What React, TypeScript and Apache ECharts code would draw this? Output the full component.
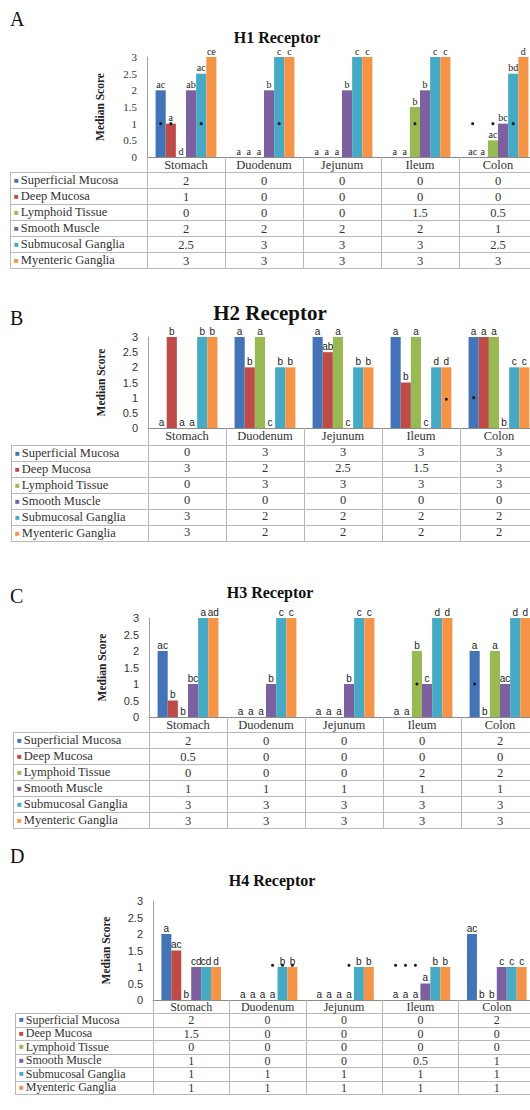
import React, { useEffect, useRef } from "react";
import * as echarts from "echarts";

const categories = ["Stomach", "Duodenum", "Jejunum", "Ileum", "Colon"];
const tissues = [
  "Superficial Mucosa",
  "Deep Mucosa",
  "Lymphoid Tissue",
  "Smooth Muscle",
  "Submucosal Ganglia",
  "Myenteric Ganglia",
];
const tissueColors = ["#4374B7", "#BE4B48", "#98B954", "#7D60A0", "#46AAC5", "#F59447"];
const yTickMin = 0;
const yTickMax = 3;
const yTickStep = 0.5;

// H1 receptor (A)
const h1Superficial = [2, 0, 0, 0, 0];
const h1Deep = [1, 0, 0, 0, 0];
const h1Lymphoid = [0, 0, 0, 1.5, 0.5];
const h1Smooth = [2, 2, 2, 2, 1];
const h1Submucosal = [2.5, 3, 3, 3, 2.5];
const h1Myenteric = [3, 3, 3, 3, 3];
const h1Letters = [
  ["ac", "a", "a", "a", "ac"],
  ["a", "a", "a", "a", "a"],
  ["d", "a", "a", "b", "ac"],
  ["ab", "b", "b", "b", "bc"],
  ["ac", "c", "c", "c", "bd"],
  ["ce", "c", "c", "c", "d"],
];
// [tissue index, category index, value]
const h1Stars = [[0, 0, 1], [1, 0, 1], [4, 0, 1], [4, 1, 1], [2, 3, 1], [0, 4, 1], [2, 4, 1], [4, 4, 1]];

// H2 receptor (B)
const h2Superficial = [0, 3, 3, 3, 3];
const h2Deep = [3, 2, 2.5, 1.5, 3];
const h2Lymphoid = [0, 3, 3, 3, 3];
const h2Smooth = [0, 0, 0, 0, 0];
const h2Submucosal = [3, 2, 2, 2, 2];
const h2Myenteric = [3, 2, 2, 2, 2];
const h2Letters = [
  ["a", "a", "a", "a", "a"],
  ["b", "b", "ab", "b", "a"],
  ["a", "a", "a", "a", "a"],
  ["a", "c", "c", "c", "b"],
  ["b", "b", "b", "d", "c"],
  ["b", "b", "b", "d", "c"],
];
const h2Stars = [[5, 3, 0.95], [0, 4, 1]];

// H3 receptor (C)
const h3Superficial = [2, 0, 0, 0, 2];
const h3Deep = [0.5, 0, 0, 0, 0];
const h3Lymphoid = [0, 0, 0, 2, 2];
const h3Smooth = [1, 1, 1, 1, 1];
const h3Submucosal = [3, 3, 3, 3, 3];
const h3Myenteric = [3, 3, 3, 3, 3];
const h3Letters = [
  ["ac", "a", "a", "a", "a"],
  ["b", "a", "a", "a", "b"],
  ["b", "a", "a", "b", "a"],
  ["bc", "b", "b", "c", "ac"],
  ["a", "c", "c", "d", "d"],
  ["ad", "c", "c", "d", "d"],
];
const h3Stars = [[2, 3, 1], [0, 4, 1]];

// H4 receptor (D)
const h4Superficial = [2, 0, 0, 0, 2];
const h4Deep = [1.5, 0, 0, 0, 0];
const h4Lymphoid = [0, 0, 0, 0, 0];
const h4Smooth = [1, 0, 0, 0.5, 1];
const h4Submucosal = [1, 1, 1, 1, 1];
const h4Myenteric = [1, 1, 1, 1, 1];
const h4Letters = [
  ["a", "a", "a", "a", "ac"],
  ["ac", "a", "a", "a", "b"],
  ["b", "a", "a", "a", "b"],
  ["cd", "a", "a", "a", "c"],
  ["cd", "b", "b", "b", "c"],
  ["d", "b", "b", "b", "c"],
];
const h4Stars = [[3, 1, 1.05], [4, 1, 1.05], [5, 1, 1.05], [3, 2, 1.05], [0, 3, 1.05], [1, 3, 1.05], [2, 3, 1.05]];

const panels = [
  { letter: "A", title: "H1 Receptor", values: [h1Superficial, h1Deep, h1Lymphoid, h1Smooth, h1Submucosal, h1Myenteric], letters: h1Letters, stars: h1Stars },
  { letter: "B", title: "H2 Receptor", values: [h2Superficial, h2Deep, h2Lymphoid, h2Smooth, h2Submucosal, h2Myenteric], letters: h2Letters, stars: h2Stars },
  { letter: "C", title: "H3 Receptor", values: [h3Superficial, h3Deep, h3Lymphoid, h3Smooth, h3Submucosal, h3Myenteric], letters: h3Letters, stars: h3Stars },
  { letter: "D", title: "H4 Receptor", values: [h4Superficial, h4Deep, h4Lymphoid, h4Smooth, h4Submucosal, h4Myenteric], letters: h4Letters, stars: h4Stars },
];

const SERIF = '"Liberation Serif", "Times New Roman", serif';
const SANS = '"Liberation Sans", Arial, sans-serif';

const layouts = [
  { left: 147, top: 57, height: 100, width: 390, rowH: 16, tableTop: 172, legendLeft: 10, letterY: 19, titleX: 277, titleY: 37, titleSize: 16, labelFont: SERIF, tickFont: SERIF, tableFont: 12.5 },
  { left: 148, top: 337, height: 91, width: 390, rowH: 16, tableTop: 445, legendLeft: 11, letterY: 318, titleX: 270, titleY: 313, titleSize: 21, labelFont: SANS, tickFont: SANS, tableFont: 12.5 },
  { left: 149, top: 618, height: 99, width: 390, rowH: 16, tableTop: 732, legendLeft: 13, letterY: 596, titleX: 270, titleY: 592, titleSize: 16, labelFont: SANS, tickFont: SANS, tableFont: 12.5 },
  { left: 153, top: 901, height: 99, width: 382, rowH: 13.5, tableTop: 1013, legendLeft: 15, letterY: 856, titleX: 272, titleY: 880, titleSize: 16, labelFont: SANS, tickFont: SANS, tableFont: 12 },
];

const fmt = (v: number) => String(v);

function buildOption() {
  const grid: any[] = [];
  const xAxis: any[] = [];
  const yAxis: any[] = [];
  const series: any[] = [];
  const graphic: any[] = [];

  panels.forEach((p, pi) => {
    const L = layouts[pi];
    const axisY = L.top + L.height;
    const tableBottom = L.tableTop + L.rowH * 6;
    grid.push({ left: L.left, top: L.top, width: L.width, height: L.height });
    xAxis.push({
      type: "category",
      gridIndex: pi,
      data: categories,
      axisLine: { show: true, lineStyle: { color: "#8c8c8c", width: 1 } },
      axisTick: { show: true, interval: 0, length: tableBottom - axisY, lineStyle: { color: "#b8b8b8" } },
      axisLabel: {
        interval: 0,
        margin: 0,
        lineHeight: L.rowH,
        fontFamily: SERIF,
        fontSize: L.tableFont,
        color: "#333",
        formatter: (v: string, i: number) => [v, ...p.values.map((arr) => fmt(arr[i]))].join("\n"),
      },
      splitLine: { show: false },
    });
    yAxis.push({
      type: "value",
      gridIndex: pi,
      min: yTickMin,
      max: yTickMax,
      interval: yTickStep,
      axisLine: { show: true, lineStyle: { color: "#a0a0a0" } },
      axisTick: { show: false },
      splitLine: { show: false },
      axisLabel: { fontFamily: L.tickFont, fontSize: 11, color: "#333", margin: 10 },
      name: "Median Score",
      nameLocation: "middle",
      nameRotate: 90,
      nameGap: 41,
      nameTextStyle: { fontFamily: SERIF, fontWeight: "bold", fontSize: 11.5, color: "#222" },
    });

    p.values.forEach((vals, ti) => {
      const stars = p.stars.filter((s) => s[0] === ti);
      series.push({
        type: "bar",
        name: tissues[ti],
        xAxisIndex: pi,
        yAxisIndex: pi,
        data: vals,
        barGap: "0%",
        barCategoryGap: "22%",
        itemStyle: { color: tissueColors[ti] },
        label: {
          show: true,
          position: "top",
          distance: 1,
          fontFamily: L.labelFont,
          fontSize: 10,
          color: "#222",
          formatter: (prm: any) => p.letters[ti][prm.dataIndex],
        },
        markPoint: stars.length
          ? {
              symbol: "circle",
              symbolSize: 3,
              silent: true,
              itemStyle: { color: "#1a1a1a" },
              label: { show: false },
              data: stars.map((s) => ({ coord: [categories[s[1]], s[2]] })),
            }
          : undefined,
      });
    });

    graphic.push({
      type: "text",
      x: 10,
      y: L.letterY,
      style: { text: p.letter, font: `20px ${SERIF}`, fill: "#111", align: "left", verticalAlign: "middle" },
    });
    graphic.push({
      type: "text",
      x: L.titleX,
      y: L.titleY,
      style: { text: p.title, font: `bold ${L.titleSize}px ${SERIF}`, fill: "#111", align: "center", verticalAlign: "middle" },
    });

    for (let k = 0; k <= 6; k++) {
      const y = Math.round(L.tableTop + k * L.rowH) + 0.5;
      graphic.push({
        type: "line",
        silent: true,
        shape: { x1: L.legendLeft, y1: y, x2: 545, y2: y },
        style: { stroke: "#b8b8b8", lineWidth: 1 },
      });
    }
    graphic.push({
      type: "line",
      silent: true,
      shape: { x1: L.legendLeft + 0.5, y1: L.tableTop, x2: L.legendLeft + 0.5, y2: tableBottom },
      style: { stroke: "#b8b8b8", lineWidth: 1 },
    });

    tissues.forEach((t, ti) => {
      graphic.push({
        type: "text",
        x: L.legendLeft + 4,
        y: L.tableTop + (ti + 0.5) * L.rowH,
        style: {
          text: `{sq|■}${t}`,
          font: `${L.tableFont}px ${SERIF}`,
          fill: "#333",
          align: "left",
          verticalAlign: "middle",
          rich: { sq: { fill: tissueColors[ti], fontSize: 8, fontFamily: SANS, padding: [0, 2, 0, 0] } },
        },
      });
    });
  });

  return { animation: false, backgroundColor: "#fff", grid, xAxis, yAxis, series, graphic };
}

export default function App() {
  const ref = useRef<HTMLDivElement>(null);
  useEffect(() => {
    if (!ref.current) return;
    const chart = echarts.init(ref.current, undefined, { renderer: "svg" });
    chart.setOption(buildOption());
    return () => chart.dispose();
  }, []);
  return (
    <div style={{ position: "fixed", left: 0, top: 0, width: 530, height: 1110, overflow: "hidden", background: "#fff" }}>
      <div ref={ref} style={{ width: 545, height: 1110 }} />
    </div>
  );
}
